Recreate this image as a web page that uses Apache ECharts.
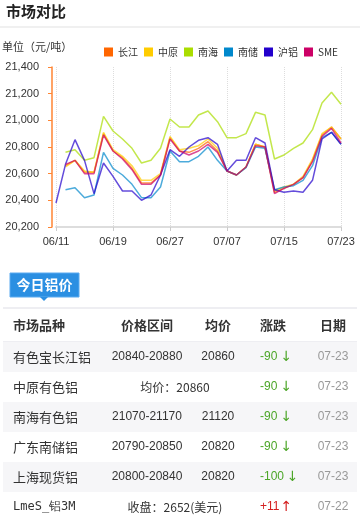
<!DOCTYPE html>
<html><head><meta charset="utf-8">
<script src="https://cdn.jsdelivr.net/npm/echarts@6/dist/echarts.min.js"></script>
<style>html,body{margin:0;padding:0;background:#fff}#c{width:360px;height:521px}</style>
</head><body><div id="c"></div>
<script>
// ---- chart data ----
const categories = ['06/11','06/12','06/13','06/14','06/17','06/18','06/19','06/20','06/21','06/24','06/25','06/26','06/27','06/28','07/01','07/02','07/03','07/04','07/07','07/08','07/09','07/10','07/11','07/12','07/15','07/16','07/17','07/18','07/19','07/22','07/23'];
const seriesNames = ['长江','中原','南海','南储','沪铝','SME'];
const changjiang = [null,20660,20700,20610,20610,20900,20770,20720,20640,20530,20530,20590,20870,20770,20760,20790,20840,20770,20620,20590,20650,20820,20800,20460,20490,20520,20570,20700,20890,20950,20860];
const zhongyuan  = [null,20650,20700,20620,20610,20910,20780,20730,20660,20550,20550,20600,20880,20780,20790,20810,20860,20790,20620,20590,20650,20820,20800,20470,20500,20520,20580,20710,20900,20950,20860];
const nanhai     = [null,20760,20780,20700,20720,21030,20920,20860,20790,20680,20700,20790,21010,20950,20950,21040,21070,20990,20870,20870,20900,21060,21040,20710,20740,20790,20830,20930,21130,21210,21120];
const nanchu     = [null,20480,20495,20420,20440,20760,20640,20590,20520,20420,20420,20500,20770,20690,20690,20730,20800,20700,20620,20590,20645,20800,20790,20480,20500,20510,20550,20660,20870,20910,20820];
const hulv       = [20380,20670,20855,20700,20450,20680,20580,20470,20470,20400,20440,20590,20780,20730,20800,20850,20870,20820,20620,20700,20700,20870,20830,20480,20460,20470,20460,20550,20860,20910,20820];
const sme        = [null,20670,20700,20600,20600,20890,20770,20710,20630,20520,20520,20590,20860,20770,20740,20770,20820,20760,20620,20590,20650,20810,20800,20450,20490,20520,20570,20690,20880,20940,20830];
const yTicks = [20200, 21400, 200]; // min, max, step

// ---- table data ----
const tableHeaders = ['市场品种','价格区间','均价','涨跌','日期'];
const tableNames = ['有色宝长江铝','中原有色铝','南海有色铝','广东南储铝','上海现货铝','LmeS_铝3M'];
const tableRanges = ['20840-20880','均价：20860','21070-21170','20790-20850','20800-20840','收盘：2652(美元)'];
const tableAvg = ['20860','','21120','20820','20820',''];
const tableChange = [-90,-90,-90,-90,-100,11];
const tableDates = ['07-23','07-23','07-23','07-23','07-23','07-22'];

const colors = ['#FF6600','#FFCC00','#AADD00','#0088CC','#2200CC','#CC0066'];
const allData = [changjiang, zhongyuan, nanhai, nanchu, hulv, sme];

const CJK = '"Noto Sans CJK SC", "Noto Sans", sans-serif';
const graphics = [];
function txt(text, x, y, opts) {
  graphics.push({type:'text', z:10, style:Object.assign({text, x, y, textVerticalAlign:'middle', textAlign:'left', fill:'#333', font:'12px ' + CJK}, opts||{})});
}
// header
txt('市场对比', 6, 11, {font:'bold 15px ' + CJK, fill:'#222'});
graphics.push({type:'rect', shape:{x:0,y:26,width:360,height:2}, style:{fill:'#f0f0f0'}});
txt('单位（元/吨）', 2, 47, {font:'11px ' + CJK, fill:'#333'});
// blue tab
graphics.push({type:'rect', shape:{x:10,y:273,width:69,height:24}, style:{fill:'#2b8fe2', stroke:'#5aaaf0', lineWidth:1}});
graphics.push({type:'polygon', shape:{points:[[40,297],[48,297],[44,301]]}, style:{fill:'#2b8fe2'}});
txt('今日铝价', 44.5, 285, {font:'bold 14px ' + CJK, fill:'#fff', textAlign:'center'});
graphics.push({type:'rect', shape:{x:3,y:307,width:354,height:2}, style:{fill:'#eeeef2'}});
// table header
const colX = [13, 147, 218, 273, 333];
tableHeaders.forEach((h,i)=>{
  txt(h, colX[i], 325, {font:'bold 13px ' + CJK, fill:'#333', textAlign: i===0?'left':'center'});
});
graphics.push({type:'rect', shape:{x:3,y:341,width:354,height:1}, style:{fill:'#eeeef2'}});
// rows
tableNames.forEach((name,r)=>{
  const top = 342 + r*30, cy = top + 15;
  if (r % 2 === 0) graphics.push({type:'rect', shape:{x:3,y:top,width:354,height:30}, style:{fill:'#f6f6f8'}});
  const isLme = name.indexOf('LmeS') === 0;
  txt(name, 13, cy, {font: isLme ? '12px "DejaVu Sans Mono", monospace' : '13px ' + CJK, fill:'#333'});
  if (tableAvg[r] === '') {
    txt(tableRanges[r], 175, cy, {font:'12px ' + CJK, fill:'#333', textAlign:'center'});
  } else {
    txt(tableRanges[r], 147, cy, {font:'12px "Liberation Sans", sans-serif', fill:'#333', textAlign:'center'});
    txt(tableAvg[r], 218, cy, {font:'12px "Liberation Sans", sans-serif', fill:'#333', textAlign:'center'});
  }
  const ch = tableChange[r];
  const up = ch > 0;
  const col = up ? '#d42020' : '#4ca628';
  const numStr = up ? '+' + ch : '-' + Math.abs(ch);
  txt(numStr, 260, cy, {font:'12px "Liberation Sans", sans-serif', fill: col});
  const w = numStr.length * 6.2;
  txt(up ? '↑' : '↓', 260 + w + 2, cy, {font:'14px "DejaVu Sans", sans-serif', fill: col});
  txt(tableDates[r], 333, cy, {font:'12px "Liberation Sans", sans-serif', fill:'#999', textAlign:'center'});
});

const chart = echarts.init(document.getElementById('c'));
chart.setOption({
  animation:false,
  color: colors,
  legend: {
    data: seriesNames, left: 99, top: 42, icon:'rect', itemWidth:9, itemHeight:9, itemGap:6,
    textStyle:{fontSize:10, color:'#333', fontFamily: CJK}
  },
  grid: {left:56, right:19, top:67, bottom:294},
  xAxis: {
    type:'category', data: categories, boundaryGap:false,
    axisLine:{lineStyle:{color:'#dddddd', width:2}},
    axisTick:{show:true, interval:5, length:4, lineStyle:{color:'#cccccc'}},
    axisLabel:{interval:5, color:'#333', fontSize:11, margin:9, fontFamily:'"Liberation Sans", sans-serif'},
    splitLine:{show:true, interval:5, lineStyle:{color:'#dddddd', type:'dotted'}}
  },
  yAxis: {
    type:'value', min:yTicks[0], max:yTicks[1], interval:yTicks[2], offset:4,
    axisLine:{show:true, lineStyle:{color:'#ff8533', width:1.5}},
    axisTick:{show:true, length:4, lineStyle:{color:'#ff8533'}},
    axisLabel:{color:'#333', fontSize:11, margin:13, fontFamily:'"Liberation Sans", sans-serif',
      formatter: v => v.toLocaleString('en-US')},
    splitLine:{show:false}
  },
  series: seriesNames.map((n,i)=>({
    name:n, type:'line', data: allData[i], symbol:'none', connectNulls:false,
    itemStyle:{color:colors[i]},
    lineStyle:{width:1.5, opacity:0.7, color:colors[i]}
  })),
  graphic: graphics
});
</script>
</body></html>
